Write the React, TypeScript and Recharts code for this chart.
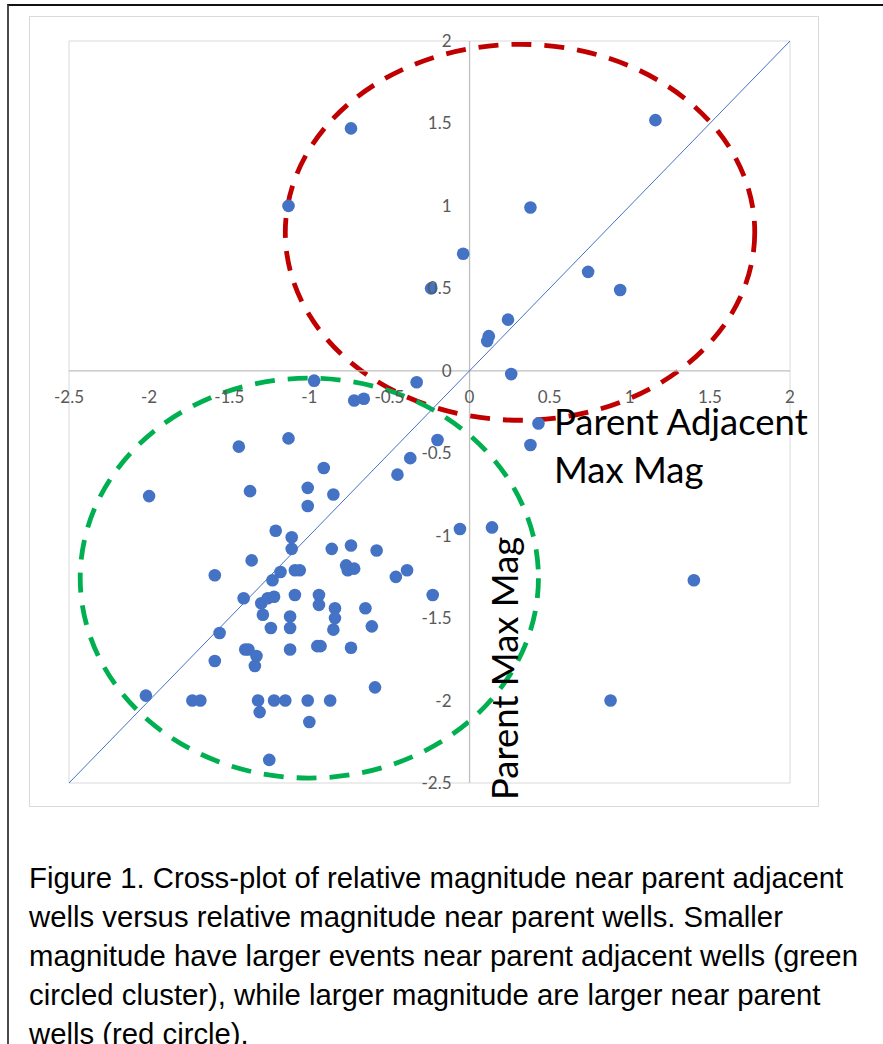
import React from "react";
import {
  ScatterChart,
  Scatter,
  XAxis,
  YAxis,
  CartesianGrid,
  ReferenceLine,
  ReferenceArea,
  ReferenceDot,
} from "recharts";

// relative magnitude near parent adjacent wells (x) and near parent wells (y)
const parentAdjacentMag = [
  -0.74, -1.13, -0.24, -0.97, -0.72, -0.66, -0.33, 1.16, 0.38, -0.04,
  0.74, 0.94, 0.24, 0.12, 0.11, 0.26, 0.43, 0.38, -0.2, -0.37,
  -0.45, -0.06, 0.14, 1.4, 0.88, -0.23, -0.91, -1.01, -0.85, -1.01,
  -1.11, -1.11, -0.86, -0.74, -0.58, -1.09, -1.06, -0.77, -0.76, -0.72,
  -0.46, -0.39, -1.44, -1.13, -2.0, -1.37, -1.21, -1.36, -1.59, -1.18,
  -1.23, -1.41, -1.3, -1.26, -1.22, -1.09, -0.94, -0.94, -0.84, -0.84,
  -0.85, -0.65, -0.61, -1.29, -1.12, -1.12, -1.24, -1.56, -0.95, -0.93,
  -0.74, -1.12, -1.4, -1.38, -1.33, -1.34, -1.59, -0.59, -2.02, -1.73,
  -1.68, -1.32, -1.22, -1.15, -1.01, -0.87, -1.31, -1.0, -1.25,
];
const parentMag = [
  1.47, 1.0, 0.5, -0.06, -0.18, -0.17, -0.07, 1.52, 0.99, 0.71,
  0.6, 0.49, 0.31, 0.21, 0.18, -0.02, -0.32, -0.45, -0.42, -0.53,
  -0.63, -0.96, -0.95, -1.27, -2.0, -1.36, -0.59, -0.71, -0.75, -0.82,
  -1.01, -1.08, -1.08, -1.06, -1.09, -1.21, -1.21, -1.18, -1.21, -1.2,
  -1.25, -1.21, -0.46, -0.41, -0.76, -0.73, -0.97, -1.15, -1.24, -1.22,
  -1.27, -1.38, -1.41, -1.38, -1.37, -1.36, -1.36, -1.42, -1.44, -1.5,
  -1.57, -1.44, -1.55, -1.48, -1.49, -1.56, -1.56, -1.59, -1.67, -1.67,
  -1.68, -1.69, -1.69, -1.69, -1.73, -1.79, -1.76, -1.92, -1.97, -2.0,
  -2.0, -2.0, -2.0, -2.0, -2.0, -2.0, -2.07, -2.13, -2.36,
];

const axisTicks = [-2.5, -2, -1.5, -1, -0.5, 0, 0.5, 1, 1.5, 2];
const oneToOne = [-2.5, 2];

// hand-drawn circles (bounding boxes in data units)
const redCircleX = [-1.15, 1.78];
const redCircleY = [-0.3, 1.98];
const greenCircleX = [-2.43, 0.43];
const greenCircleY = [-2.47, -0.045];

const captionLines = [
  "Figure 1. Cross-plot of relative magnitude near parent adjacent",
  "wells versus relative magnitude near parent wells. Smaller",
  "magnitude have larger events near parent adjacent wells (green",
  "circled cluster), while larger magnitude are larger near parent",
  "wells (red circle).",
];

const points = parentAdjacentMag.map((x, i) => ({ x, y: parentMag[i] }));

const tickFont = { fill: "#595959", fontSize: 17, fontFamily: "Lato" };

function dashedEllipse(color: string) {
  return (p: any) => (
    <ellipse
      cx={p.x + p.width / 2}
      cy={p.y + p.height / 2}
      rx={Math.abs(p.width) / 2}
      ry={Math.abs(p.height) / 2}
      fill="none"
      stroke={color}
      strokeWidth={4.8}
      strokeDasharray="20 13"
    />
  );
}

export default function App() {
  return (
    <div
      style={{
        position: "absolute",
        left: 0,
        top: 0,
        width: 883,
        height: 1044,
        overflow: "hidden",
        background: "#fff",
      }}
    >
      <div
        style={{
          position: "absolute",
          left: 7,
          top: 4,
          width: 1000,
          height: 1200,
          borderTop: "2px solid #111",
          borderLeft: "2px solid #4a4a4a",
        }}
      />
      <div
        style={{
          position: "absolute",
          left: 29,
          top: 16,
          width: 790,
          height: 791,
          border: "1px solid #d9d9d9",
          boxSizing: "border-box",
        }}
      />
      <div style={{ position: "absolute", left: 29, top: 16 }}>
        <ScatterChart
          width={790}
          height={791}
          margin={{ top: 25, right: 29, bottom: 24, left: 40 }}
        >
          <CartesianGrid stroke="#d9d9d9" />
          <XAxis
            type="number"
            dataKey="x"
            domain={[-2.5, 2]}
            ticks={axisTicks}
            height={0}
            tick={false}
            axisLine={false}
            tickLine={false}
          />
          <YAxis
            type="number"
            dataKey="y"
            domain={[-2.5, 2]}
            ticks={axisTicks}
            width={0}
            tick={false}
            axisLine={false}
            tickLine={false}
          />
          <ReferenceLine x={0} stroke="#bfbfbf" strokeWidth={1.3} />
          <ReferenceLine y={0} stroke="#bfbfbf" strokeWidth={1.3} />
          {axisTicks.map((t) => (
            <ReferenceDot
              key={"xt" + t}
              x={t}
              y={0}
              r={0}
              fill="none"
              stroke="none"
              label={{ value: String(t), position: "bottom", offset: 20, ...tickFont }}
            />
          ))}
          {axisTicks.map((t) => (
            <ReferenceDot
              key={"yt" + t}
              x={0}
              y={t}
              r={0}
              fill="none"
              stroke="none"
              label={{ value: String(t), position: "left", offset: 18, ...tickFont }}
            />
          ))}
          <ReferenceLine
            segment={[
              { x: oneToOne[0], y: oneToOne[0] },
              { x: oneToOne[1], y: oneToOne[1] },
            ]}
            stroke="#4472c4"
            strokeWidth={1}
          />
          <Scatter
            data={points}
            isAnimationActive={false}
            shape={(p: any) => <circle cx={p.cx} cy={p.cy} r={6.3} fill="#4472c4" />}
          />
          <ReferenceArea
            x1={redCircleX[0]}
            x2={redCircleX[1]}
            y1={redCircleY[0]}
            y2={redCircleY[1]}
            shape={dashedEllipse("#c00000")}
          />
          <ReferenceArea
            x1={greenCircleX[0]}
            x2={greenCircleX[1]}
            y1={greenCircleY[0]}
            y2={greenCircleY[1]}
            shape={dashedEllipse("#00b050")}
          />
        </ScatterChart>
      </div>
      <svg
        width={883}
        height={1044}
        style={{ position: "absolute", left: 0, top: 0, pointerEvents: "none" }}
      >
        <g fontFamily="Lato" fontSize={36.5} fill="#000">
          <text x={554} y={435}>Parent Adjacent</text>
          <text x={554} y={483}>Max Mag</text>
          <text transform="translate(518,800) rotate(-90)">Parent Max Mag</text>
        </g>
      </svg>
      <div
        style={{
          position: "absolute",
          left: 29,
          top: 858,
          fontFamily: "'Liberation Sans', Arial, sans-serif",
          fontSize: 29.3,
          lineHeight: "39px",
          color: "#000",
          whiteSpace: "nowrap",
        }}
      >
        {captionLines.map((l) => (
          <div key={l}>{l}</div>
        ))}
      </div>
    </div>
  );
}
